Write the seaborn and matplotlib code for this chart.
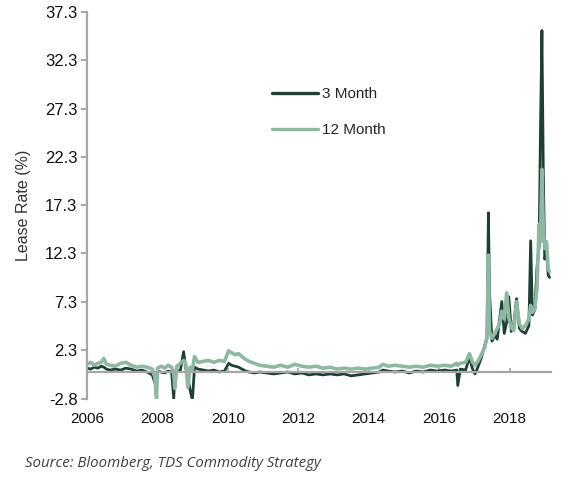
import numpy as np
import pandas as pd
import matplotlib
matplotlib.use("Agg")
import matplotlib.pyplot as plt
import seaborn as sns
from matplotlib.lines import Line2D

# decimal years, values (lease rate, %)
years = [
    2006.00, 2006.10, 2006.20, 2006.30, 2006.40, 2006.47, 2006.55, 2006.65, 2006.80, 2006.95,
    2007.10, 2007.25, 2007.40, 2007.55, 2007.70, 2007.85, 2007.92, 2007.97, 2008.00, 2008.10,
    2008.20, 2008.30, 2008.40, 2008.46, 2008.49, 2008.55, 2008.65, 2008.74, 2008.80, 2008.86,
    2008.92, 2008.99, 2009.05, 2009.15, 2009.30, 2009.45, 2009.60, 2009.75, 2009.90, 2010.02,
    2010.10, 2010.20, 2010.30, 2010.40, 2010.50, 2010.60, 2010.75, 2010.90, 2011.10, 2011.30,
    2011.50, 2011.70, 2011.90, 2012.10, 2012.30, 2012.50, 2012.70, 2012.90, 2013.10, 2013.30,
    2013.50, 2013.70, 2013.90, 2014.10, 2014.30, 2014.40, 2014.55, 2014.75, 2014.95, 2015.15,
    2015.35, 2015.55, 2015.75, 2015.95, 2016.15, 2016.35, 2016.50, 2016.53, 2016.60, 2016.75,
    2016.86, 2016.95, 2017.02, 2017.10, 2017.20, 2017.30, 2017.36, 2017.40, 2017.43, 2017.50,
    2017.58, 2017.65, 2017.72, 2017.78, 2017.85, 2017.92, 2017.98, 2018.05, 2018.12, 2018.20,
    2018.28, 2018.36, 2018.45, 2018.55, 2018.60, 2018.65, 2018.72, 2018.78, 2018.84, 2018.88,
    2018.92, 2018.96, 2019.00, 2019.05, 2019.10, 2019.14,
]

month3 = [
    0.4, 0.3, 0.5, 0.4, 0.6, 0.5, 0.3, 0.2, 0.3, 0.2,
    0.4, 0.3, 0.1, 0.2, 0.0, -0.3, -1.1, -0.2, 0.1, 0.0,
    -0.1, 0.1, 0.0, -2.8, 0.1, 0.0, 0.2, 2.1, 0.4, -0.5,
    -1.8, -2.9, 0.5, 0.3, 0.2, 0.1, 0.2, 0.0, 0.1, 0.9,
    0.7, 0.6, 0.5, 0.3, 0.1, 0.0, -0.1, 0.0, -0.1, -0.2,
    -0.1, 0.0, -0.2, -0.1, -0.3, -0.2, -0.3, -0.2, -0.3, -0.2,
    -0.4, -0.3, -0.2, -0.1, 0.0, 0.2, 0.1, 0.0, 0.1, -0.1,
    0.1, 0.0, 0.2, 0.1, 0.2, 0.1, 0.2, -1.4, 0.3, 0.2,
    1.5, 0.3, -0.2, 0.5, 1.5, 2.8, 3.5, 16.5, 8.4, 3.2,
    3.8, 3.4, 5.5, 7.3, 4.0, 5.2, 7.8, 4.2, 5.0, 7.6,
    4.5, 4.2, 4.0, 4.8, 13.6, 5.9, 6.5, 10.8, 13.0, 25.3,
    35.4, 20.5, 11.7, 12.5, 10.0, 9.8,
]

month12 = [
    0.8, 1.0, 0.7, 0.9, 1.0, 1.4, 0.8, 0.7, 0.6, 0.9,
    1.0, 0.7, 0.5, 0.6, 0.5, 0.3, -0.5, -2.7, 0.4, 0.6,
    0.4, 0.7, 0.5, -0.2, -1.7, 0.6, 0.9, 1.2, 0.9, -1.6,
    0.5, 0.2, 1.6, 1.0, 1.1, 1.2, 1.0, 1.2, 1.1, 2.2,
    2.0, 1.8, 1.9, 1.6, 1.3, 1.1, 0.9, 0.7, 0.6, 0.5,
    0.7, 0.5, 0.8, 0.6, 0.5, 0.6, 0.4, 0.5, 0.3, 0.4,
    0.3, 0.4, 0.3, 0.4, 0.5, 0.8, 0.6, 0.7, 0.6, 0.5,
    0.6, 0.5, 0.7, 0.6, 0.7, 0.6, 0.9, 0.7, 0.9, 1.0,
    1.9, 1.0, 0.7, 1.1, 1.8, 2.6, 3.6, 12.1, 4.2, 3.5,
    4.0, 4.5, 5.0, 6.3, 5.5, 8.2, 5.6, 4.6, 4.3, 7.3,
    5.0, 4.5, 4.8, 5.5, 6.9, 6.2, 6.5, 8.7, 15.3, 13.5,
    21.0, 14.8, 12.8, 13.5, 10.6, 10.4,
]

series_names = ["3 Month", "12 Month"]
series_colors = ["#1f3f33", "#8fb8a3"]
y_ticks = [-2.8, 2.3, 7.3, 12.3, 17.3, 22.3, 27.3, 32.3, 37.3]
x_ticks = [2006, 2008, 2010, 2012, 2014, 2016, 2018]

df = pd.DataFrame({
    "year": years * 2,
    "rate": month3 + month12,
    "series": [series_names[0]] * len(years) + [series_names[1]] * len(years),
})

sns.set_theme(style="white")
plt.rcParams["font.family"] = ["Liberation Sans", "DejaVu Sans"]

fig = plt.figure(figsize=(5.85, 4.86), dpi=100)
ax = fig.add_axes([0.149, 0.179, 0.793, 0.796])

sns.lineplot(data=df, x="year", y="rate", hue="series", hue_order=series_names,
             palette=series_colors, ax=ax, estimator=None, legend=False)
ax.lines[0].set_linewidth(2.0)
ax.lines[1].set_linewidth(2.6)

# legend
handles = [Line2D([], [], color=c, lw=2.4) for c in series_colors]
ax.legend(handles, series_names, loc="upper left", bbox_to_anchor=(0.382, 0.826),
          frameon=False, fontsize=11, handlelength=3.0, handletextpad=0.25,
          labelspacing=1.45, borderpad=0)

ax.set_xlim(2006, 2019.18)
ax.set_ylim(-2.8, 37.3)
ax.set_yticks(y_ticks)
ax.set_yticklabels([f"{v:.1f}" for v in y_ticks], fontsize=12)
ax.set_xticks(x_ticks)
ax.set_xticklabels([str(v) for v in x_ticks], fontsize=12)

axis_grey = "#a6a6a6"
sns.despine(ax=ax)
ax.spines["left"].set_color(axis_grey)
ax.spines["left"].set_linewidth(1.6)
ax.spines["bottom"].set_color(axis_grey)
ax.spines["bottom"].set_linewidth(1.6)
ax.spines["bottom"].set_position(("data", 0))
ax.tick_params(axis="y", direction="out", length=4, width=1.4, color=axis_grey,
               labelcolor="#111111", pad=3, left=True)
ax.tick_params(axis="x", direction="in", length=3, width=1.2, color=axis_grey,
               labelcolor="#111111", pad=29, bottom=True)

ax.set_xlabel("")
ax.set_ylabel("Lease Rate (%)", fontsize=11.5, color="#333333", labelpad=10)

fig.text(0.043, 0.04, "Source: Bloomberg, TDS Commodity Strategy",
         fontsize=10.8, style="italic", color="#404040", family=["Open Sans", "DejaVu Sans"])

fig.savefig("out.png", dpi=100)
